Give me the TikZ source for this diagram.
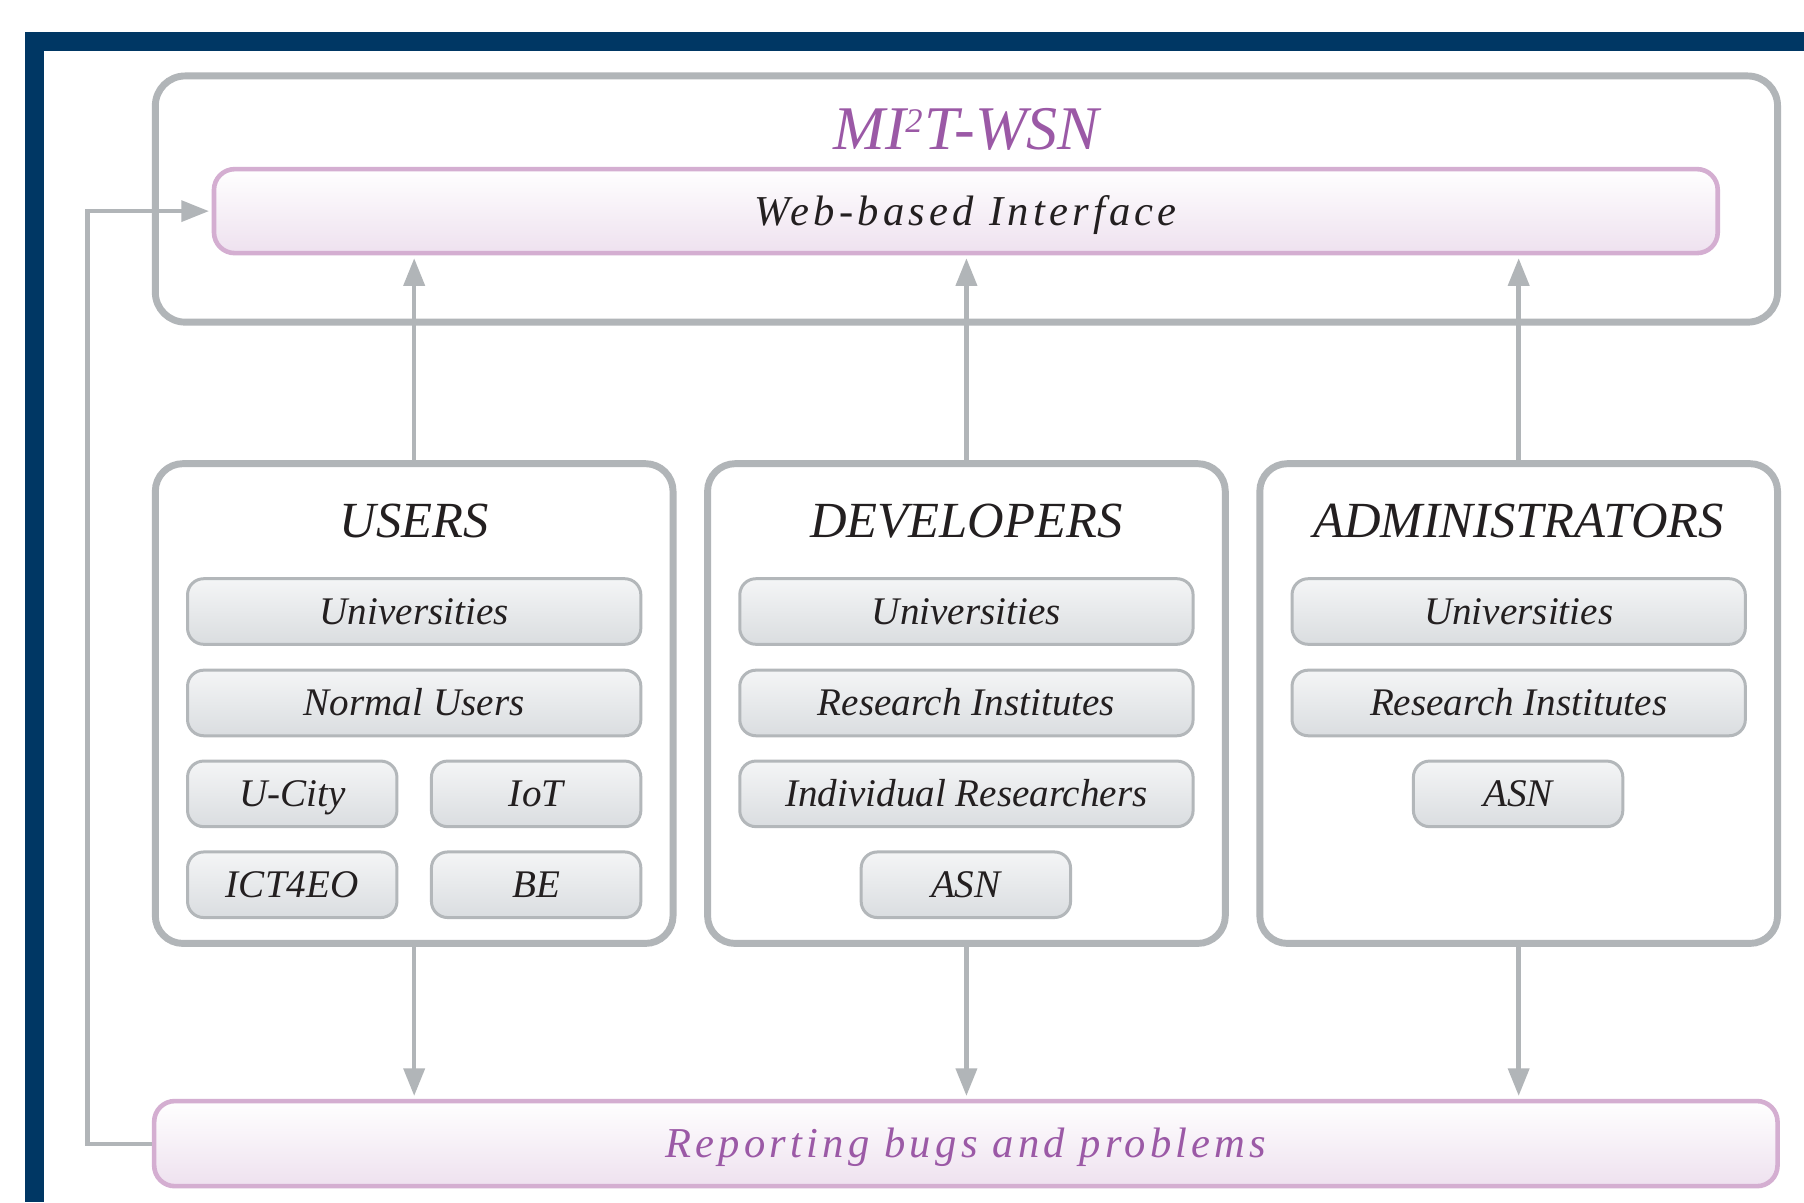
\documentclass[tikz,border=0pt]{standalone}
\usepackage{fontspec}
\setmainfont{Liberation Serif}
\usetikzlibrary{arrows.meta}
\definecolor{frameblue}{HTML}{003764}
\definecolor{boxgray}{HTML}{B1B5B8}
\definecolor{pinkline}{HTML}{D4AED1}
\definecolor{pinkfill}{HTML}{EEE1EF}
\definecolor{purpletext}{HTML}{9B59A6}
\definecolor{inktext}{HTML}{231F20}
\definecolor{pilltop}{HTML}{F4F5F6}
\definecolor{pillbot}{HTML}{DADDE0}
\definecolor{pillline}{HTML}{B3B7BA}
\begin{document}
\begin{tikzpicture}[x=0.5pt,y=-0.5pt,
 grpbox/.style={draw=boxgray, line width=3pt, rounded corners=12pt, minimum width=225pt, minimum height=208.5pt, inner sep=0pt},
 pinkbox/.style={draw=pinkline, line width=2pt, rounded corners=9pt, top color=white, bottom color=pinkfill, inner sep=0pt, text height=16.8pt, text depth=4.6pt},
 pill/.style={draw=pillline, line width=1.3pt, rounded corners=7pt, top color=pilltop, bottom color=pillbot, minimum height=28.5pt, inner sep=0pt, text=inktext, font=\fontsize{17}{20}\selectfont\itshape, text height=15.5pt, text depth=4.25pt},
 widepill/.style={pill, minimum width=197pt},
 smallpill/.style={pill, minimum width=91pt},
 heading/.style={inner sep=0pt, text=inktext, font=\fontsize{22}{26}\selectfont\itshape, text height=20pt, text depth=5.5pt},
 arr/.style={draw=boxgray, line width=2pt, -{Triangle[length=12pt,width=9pt]}},
 bandtext/.style={font=\fontsize{18.5}{22}\selectfont\itshape\addfontfeature{LetterSpace=10}},
]
\useasboundingbox (0,0) rectangle (1568,1045);
\fill[white] (0,0) rectangle (1568,1045);
% blue frame
\fill[frameblue] (22,28) rectangle (1568,44);
\fill[frameblue] (22,28) rectangle (38,1045);
% system box
\node[draw=boxgray, line width=3pt, rounded corners=13pt, minimum width=705pt, minimum height=107pt, inner sep=0pt] (sys) at (840,173) {};
\node[inner sep=0pt, text=purpletext, font=\fontsize{27}{30}\selectfont\itshape, text height=24.6pt, text depth=6.75pt] (title) at (840,112) {MI\kern-0.3pt\raisebox{7.5pt}{\fontsize{15}{15}\selectfont\itshape 2}\kern0.8pt T-WSN};
\node[pinkbox, minimum width=653.5pt, minimum height=36.5pt, text=inktext, bandtext] (web) at (839.5,183.5) {Web-based Interface};
% groups
\node[grpbox] (users) at (360,611.5) {};
\node[grpbox] (devs) at (840,611.5) {};
\node[grpbox] (admins) at (1320,611.5) {};
\node[heading] (husers) at (360,453) {USERS};
\node[heading] (hdevs) at (840,453) {DEVELOPERS};
\node[heading] (hadmins) at (1320,453) {ADMINISTRATORS};
% users items
\node[widepill] (u1) at (360,531.5) {Universities};
\node[widepill] (u2) at (360,611) {Normal Users};
\node[smallpill] (u3) at (254,690) {U-City};
\node[smallpill] (u4) at (466,690) {IoT};
\node[smallpill] (u5) at (254,769) {ICT4EO};
\node[smallpill] (u6) at (466,769) {BE};
% developers items
\node[widepill] (d1) at (840,531.5) {Universities};
\node[widepill] (d2) at (840,611) {Research Institutes};
\node[widepill] (d3) at (840,690) {Individual Researchers};
\node[smallpill] (d4) at (839.5,769) {ASN};
% administrators items
\node[widepill] (a1) at (1320,531.5) {Universities};
\node[widepill] (a2) at (1320,611) {Research Institutes};
\node[smallpill] (a3) at (1319.5,690) {ASN};
% reporting
\node[pinkbox, minimum width=705.5pt, minimum height=37pt, text=purpletext, bandtext] (report) at (839.5,994) {Reporting bugs and problems};
% arrows up
\draw[arr, shorten >=1.2pt] (users.north) -- (users.north |- web.south);
\draw[arr, shorten >=1.2pt] (devs.north) -- (devs.north |- web.south);
\draw[arr, shorten >=1.2pt] (admins.north) -- (admins.north |- web.south);
% arrows down
\draw[arr, shorten >=1.2pt] (users.south) -- (users.south |- report.north);
\draw[arr, shorten >=1.2pt] (devs.south) -- (devs.south |- report.north);
\draw[arr, shorten >=1.2pt] (admins.south) -- (admins.south |- report.north);
% feedback
\coordinate (fbcorner) at (76,183.5);
\draw[arr, line width=1.8pt, shorten >=1.2pt] (report.west) -| (fbcorner) -- (web.west);
\end{tikzpicture}
\end{document}
